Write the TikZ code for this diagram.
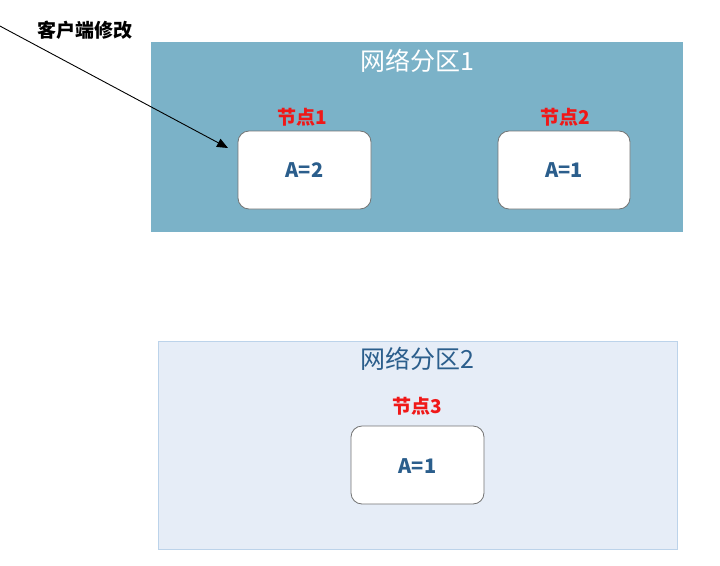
\documentclass[tikz,border=0pt]{standalone}
\usepackage{fontspec}
\setmainfont{Noto Sans CJK SC}
\usetikzlibrary{arrows.meta}
\definecolor{partA}{HTML}{7BB2C8}
\definecolor{partB}{HTML}{E6EDF7}
\definecolor{partBline}{HTML}{BCD3EA}
\definecolor{valblue}{HTML}{2B5E8C}
\definecolor{lblred}{HTML}{F01818}
\tikzset{
  nodebox/.style={draw=black!55, fill=white, rounded corners=11pt, line width=0.8pt},
  vallabel/.style={font=\fontsize{20}{24}\selectfont\bfseries, text=valblue},
  nodelabel/.style={font=\fontsize{19}{22}\selectfont\bfseries, text=lblred},
  parttitle/.style={font=\fontsize{25}{28}\selectfont},
}
\begin{document}
\begin{tikzpicture}[x=1pt,y=-1pt]
\useasboundingbox (0,0) rectangle (720,565);
% partition 1
\fill[partA] (151,42) rectangle (683,232);
\node[parttitle, text=white] (t1) at (417,61) {网络分区1};
% partition 2
\draw[partBline, fill=partB, line width=0.8pt] (158,341) rectangle (677,549);
\node[parttitle, text=valblue] (t2) at (417,359) {网络分区2};
% nodes
\draw[nodebox] (238,131) rectangle (371,209);
\node[vallabel] (v1) at (304.5,170) {A=2};
\node[nodelabel] (l1) at (302,117) {节点1};
\draw[nodebox] (498,131) rectangle (630,209);
\node[vallabel] (v2) at (564,170) {A=1};
\node[nodelabel] (l2) at (565,117) {节点2};
\draw[nodebox] (351,426) rectangle (484,504);
\node[vallabel] (v3) at (417.5,466) {A=1};
\node[nodelabel] (l3) at (417,406) {节点3};
% client arrow
\node[font=\fontsize{19}{22}\selectfont\bfseries] (c) at (85,30) {客户端修改};
\coordinate (s) at (-2,25);
\coordinate (e) at (228,148);
\draw[line width=0.9pt, -{Triangle[length=11pt,width=9pt]}] (s) -- (e);
\end{tikzpicture}
\end{document}
